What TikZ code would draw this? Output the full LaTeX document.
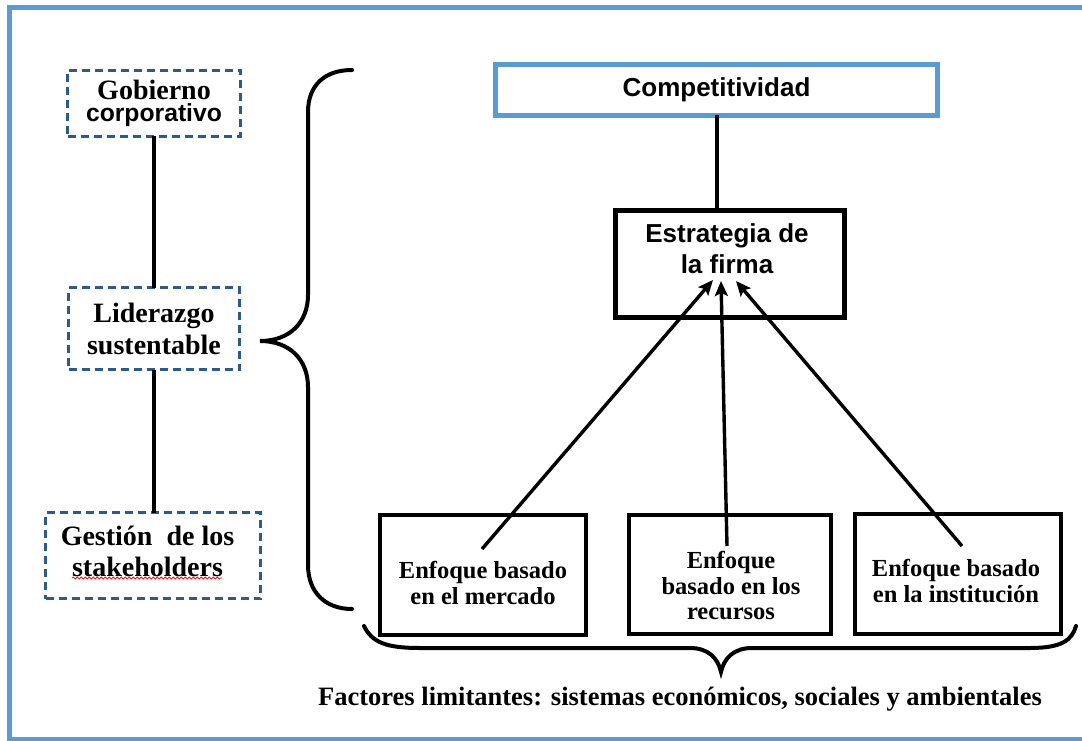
\documentclass[tikz,border=0pt]{standalone}
\usepackage{fontspec}
\setmainfont{Liberation Serif}
\newfontfamily\arialf{Liberation Sans}
\usetikzlibrary{arrows.meta,decorations.pathmorphing}
\definecolor{frameblue}{HTML}{5B9BD5}
\definecolor{dashblue}{HTML}{2E5A88}
\definecolor{spellred}{HTML}{E02020}

\begin{document}
\begin{tikzpicture}[x=1pt,y=-1pt,
  every node/.style={inner sep=0pt,outer sep=0pt},
  dbox/.style={draw=dashblue,line width=2.2pt,dash pattern=on 8pt off 5pt},
  sbox/.style={draw=black,line width=4pt},
  serifl/.style={align=center,font=\bfseries\fontsize{28}{32}\selectfont},
  serifs/.style={align=center,font=\bfseries\fontsize{24.5}{25.5}\selectfont},
  sansb/.style={align=center,font=\arialf\bfseries\fontsize{26}{31}\selectfont},
  conn/.style={draw=black,line width=4pt},
  arr/.style={draw=black,line width=3.4pt,-{Stealth[length=15pt,width=13pt,inset=3pt]}},
  brace/.style={draw=black,line width=4pt,line cap=round}]
\useasboundingbox (0,0) rectangle (1082,741);

% outer frame
\draw[frameblue,line width=5pt] (9.5,8) rectangle (1110,739.5);

% left column
\node[dbox,minimum width=173pt,minimum height=66pt,align=center,
      font=\bfseries\fontsize{28}{22}\selectfont] (gob) at (154,103.5)
  {Gobierno\\{\arialf\fontsize{24.7}{22}\selectfont corporativo}};
\node[dbox,serifl,minimum width=171pt,minimum height=82pt] (lid) at (154,328.5)
  {Liderazgo\\sustentable};
\node[dbox,minimum width=215pt,minimum height=86pt] (ges) at (153,555.5) {};
\node[serifl,font=\bfseries\fontsize{28}{31}\selectfont] (gest) at (147.5,551)
  {Gestión\ \ de los\\stakeholders};
\coordinate (spellA) at (72,578);
\coordinate (spellB) at (222,578);
\draw[spellred,line width=0.8pt,decorate,
      decoration={snake,amplitude=1.1pt,segment length=4pt}] (spellA) -- (spellB);

\draw[conn] (gob.south) -- (lid.north);
\draw[conn] (lid.south) -- (lid.south |- ges.north);

% left curly brace
\coordinate (lbTop) at (352,70);
\coordinate (lbTip) at (260,341);
\coordinate (lbBot) at (352,609);
\draw[brace] (lbTop) .. controls (325,70) and (308,85) .. (308,112)
  -- (308,295) .. controls (308,322) and (290,341) .. (lbTip)
  .. controls (290,341) and (308,360) .. (308,387)
  -- (308,565) .. controls (308,592) and (325,609) .. (lbBot);

% right part
\node[draw=frameblue,line width=5pt,minimum width=442pt,minimum height=51pt,
      sansb] (comp) at (716.5,90) {Competitividad};
\node[draw=black,line width=5pt,minimum width=229pt,minimum height=107pt] (firm) at (730,264) {};
\node[sansb] (firmt) at (727,249) {Estrategia de\\la firma};
\draw[conn] (comp.south) -- (comp.south |- firm.north);

\node[sbox,minimum width=206pt,minimum height=120pt] (m1) at (483,575) {};
\node[sbox,minimum width=202pt,minimum height=119pt] (m2) at (730,574.5) {};
\node[sbox,minimum width=206pt,minimum height=120pt] (m3) at (958,574) {};
\node[serifs] (m1t) at (483,583) {Enfoque basado\\en el mercado};
\node[serifs] (m2t) at (731,586) {Enfoque\\basado en los\\recursos};
\node[serifs] (m3t) at (956,581) {Enfoque basado\\en la institución};

% arrows into the strategy box
\coordinate (a1s) at (482,549);
\coordinate (a2s) at (727,546);
\coordinate (a3s) at (962,546);
\coordinate (a1e) at (713,280);
\coordinate (a2e) at (721,281);
\coordinate (a3e) at (736,281);
\draw[arr] (a1s) -- (a1e);
\draw[arr] (a2s) -- (a2e);
\draw[arr] (a3s) -- (a3e);

% bottom curly brace and caption
\coordinate (bbL) at (364,626);
\coordinate (bbTip) at (721,672);
\coordinate (bbR) at (1076,626);
\draw[brace] (bbL) .. controls (372,642) and (385,648) .. (420,648)
  -- (690,648) .. controls (708,648) and (718,658) .. (bbTip)
  .. controls (724,658) and (734,648) .. (752,648)
  -- (1030,648) .. controls (1062,648) and (1072,640) .. (bbR);
\node[anchor=base,font=\bfseries\fontsize{26.5}{30}\selectfont] (cap) at (680,705)
  {Factores limitantes: sistemas económicos, sociales y ambientales};
\end{tikzpicture}
\end{document}
